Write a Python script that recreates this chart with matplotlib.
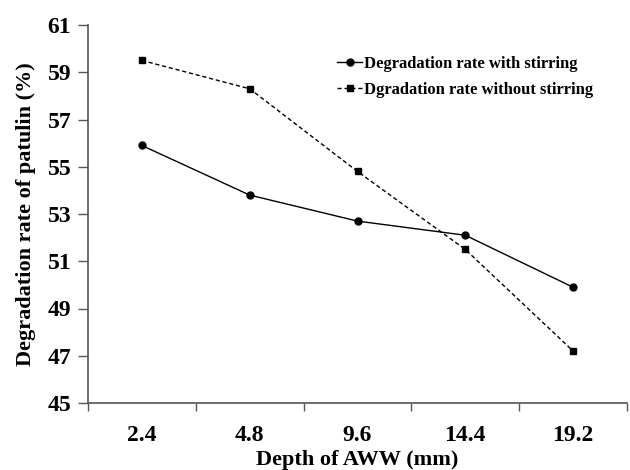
import numpy as np
import matplotlib
matplotlib.use("Agg")
import matplotlib.pyplot as plt
from matplotlib.ticker import FixedLocator

# data
depths = ["2.4", "4.8", "9.6", "14.4", "19.2"]
with_stirring = [55.9, 53.8, 52.7, 52.1, 49.9]
without_stirring = [59.5, 58.3, 54.8, 51.5, 47.2]

plt.rcParams['font.family'] = ['Liberation Serif', 'DejaVu Serif']
plt.rcParams['font.weight'] = 'bold'

fig = plt.figure(figsize=(6.3, 4.7), dpi=100)
ax = fig.add_axes([88 / 630, 1 - 403 / 470, (627 - 88) / 630, (403 - 25) / 470])

x = np.arange(len(depths))
ax.plot(x, with_stirring, color='black', linewidth=1.0, marker='o', markersize=5,
        label='Degradation rate with stirring')
ax.plot(x, without_stirring, color='black', linewidth=1.0, linestyle=(0, (3, 2)),
        marker='s', markersize=5, label='Dgradation rate without stirring')

ax.set_xlim(-0.5, len(depths) - 0.5)
ax.set_ylim(45, 61)
ax.set_yticks(np.arange(45, 62, 2))
ax.set_xticks(x)
ax.set_xticklabels(depths)
ax.xaxis.set_minor_locator(FixedLocator(np.arange(-0.5, len(depths), 1.0)))
ax.tick_params(axis='x', which='major', length=0, labelsize=17, pad=16)
ax.tick_params(axis='x', which='minor', length=6, width=1, color='#555555', direction='out')
ax.tick_params(axis='y', length=7, width=1, color='#555555', labelsize=17, pad=5)

for s in ['top', 'right']:
    ax.spines[s].set_visible(False)
for s in ['left', 'bottom']:
    ax.spines[s].set_color('#555555')
    ax.spines[s].set_linewidth(1.2)

ax.set_xlabel("Depth of AWW (mm)", fontsize=16, fontweight='bold', labelpad=3)
ax.set_ylabel("Degradation rate of patulin (%)", fontsize=16, fontweight='bold', labelpad=8)

ax.legend(loc='upper left', bbox_to_anchor=(0.45, 0.935), frameon=False,
          handlelength=1.5, handletextpad=0.1, labelspacing=0.6, borderaxespad=0,
          prop={'weight': 'bold', 'size': 12})

fig.savefig("out.png", dpi=100)
